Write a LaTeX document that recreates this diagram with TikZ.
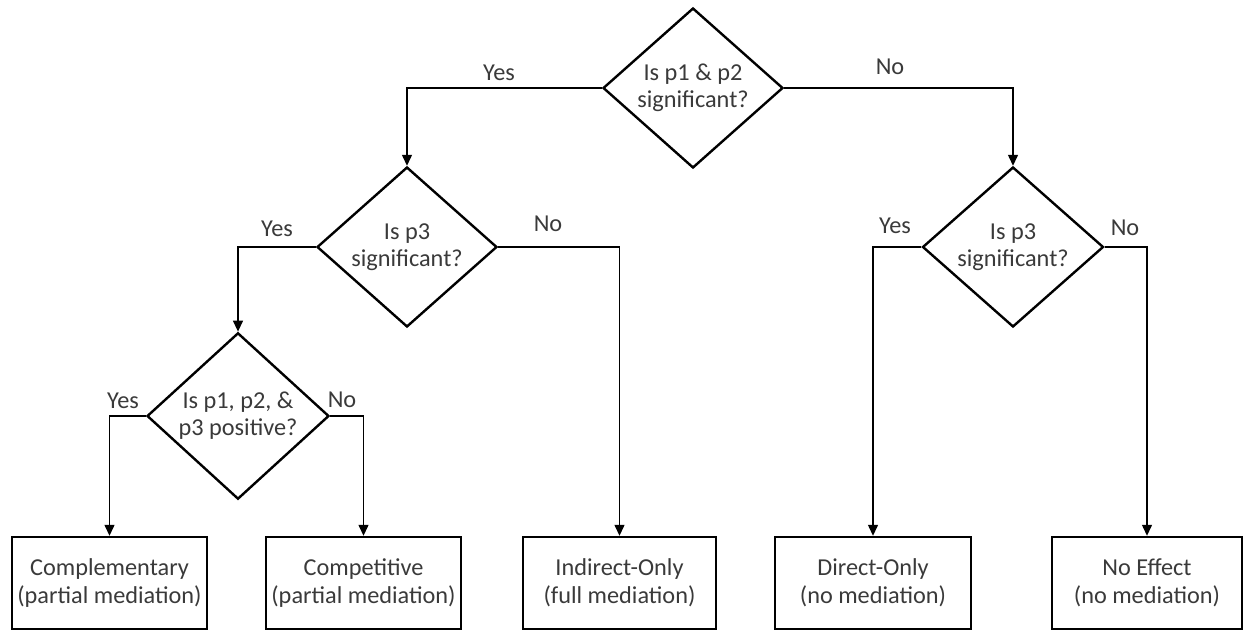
\documentclass[tikz,border=0pt]{standalone}
\usepackage{fontspec}
\setmainfont{Carlito}
\usetikzlibrary{shapes.geometric,arrows.meta}
\definecolor{txt}{HTML}{3A3A3A}
\tikzset{
  decision/.style={diamond, draw=black, line width=2.4pt, inner sep=0pt, minimum width=180pt, minimum height=160pt, align=center, text=txt, font=\fontsize{24.3}{27}\selectfont},
  outcome/.style={rectangle, draw=black, line width=2.4pt, inner sep=0pt, minimum width=195pt, minimum height=92pt, align=center, text=txt, font=\fontsize{24.3}{28}\selectfont},
  conn/.style={draw=black, line width=1.3pt, -{Triangle[length=11pt,width=10pt]}},
  lbl/.style={text=txt, font=\fontsize{24.3}{27}\selectfont, inner sep=0pt}
}
\begin{document}
\begin{tikzpicture}[x=1pt,y=-1pt]
\useasboundingbox (0,0) rectangle (1243,631);
\node[decision] (d1) at (693,88) {Is p1 \& p2\\significant?};
\node[decision] (d2) at (407,247) {Is p3\\significant?};
\node[decision, minimum width=181pt] (d3) at (1013,247) {Is p3\\significant?};
\node[decision, minimum width=182pt, minimum height=158pt] (d4) at (238,416) {Is p1, p2, \&\\p3 positive?};
\node[outcome] (b1) at (109.5,583) {Complementary\\(partial mediation)};
\node[outcome] (b2) at (363.5,583) {Competitive\\(partial mediation)};
\node[outcome, minimum width=193pt] (b3) at (619.5,583) {Indirect-Only\\(full mediation)};
\node[outcome, minimum width=196pt] (b4) at (873,583) {Direct-Only\\(no mediation)};
\node[outcome, minimum width=190pt] (b5) at (1147,583) {No Effect\\(no mediation)};
\draw[conn] (d1.west) -| (d2.north);
\draw[conn] (d1.east) -| (d3.north);
\draw[conn] (d2.west) -| (d4.north);
\draw[conn] (d2.east) -| (b3.north);
\draw[conn] (d3.west) -| (b4.north);
\draw[conn] (d3.east) -| (b5.north);
\draw[conn] (d4.west) -| (b1.north);
\draw[conn] (d4.east) -| (b2.north);
\node[lbl] (y1) at (499,73) {Yes};
\node[lbl] (n1) at (890,67) {No};
\node[lbl] (y2) at (277,229) {Yes};
\node[lbl] (n2) at (548,224) {No};
\node[lbl] (y3) at (895,226) {Yes};
\node[lbl] (n3) at (1125,228) {No};
\node[lbl] (y4) at (123,401) {Yes};
\node[lbl] (n4) at (342,400) {No};
\end{tikzpicture}
\end{document}
